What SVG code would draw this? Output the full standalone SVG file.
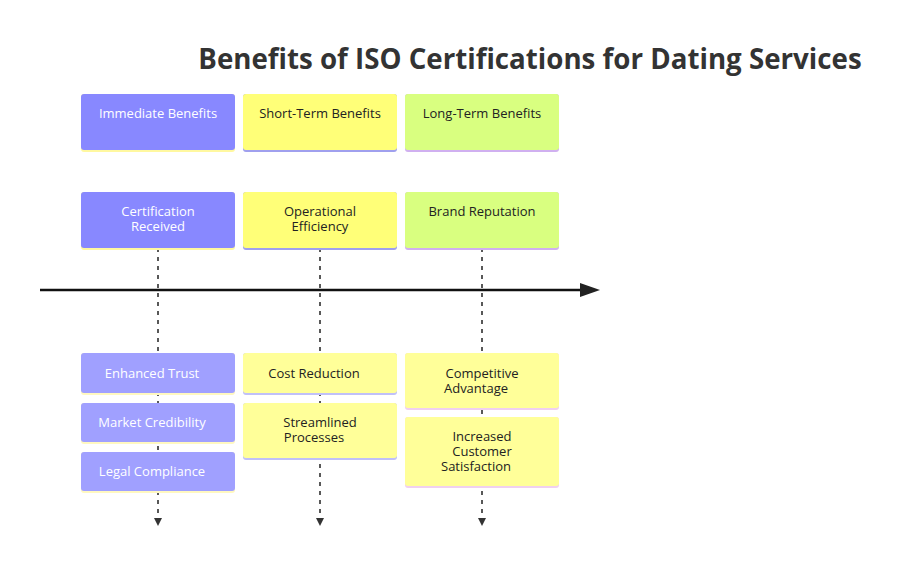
<svg xmlns="http://www.w3.org/2000/svg" width="904" height="570" viewBox="0 0 904 570">
<style>
text{font-family:"Open Sans","Liberation Sans",sans-serif;font-size:13px;text-anchor:middle}
.w{fill:#ffffff}.k{fill:#222222}
.title{font-size:27.7px;font-weight:bold;fill:#333333}
.dash{stroke:#222;stroke-width:1.5;stroke-dasharray:4 5;fill:none}
</style>
<defs>
<marker id="ah" markerWidth="8" markerHeight="8" refX="4" refY="4" orient="auto" markerUnits="userSpaceOnUse"><path d="M0,0 L8,4 L0,8 Z" fill="#333"/></marker>
<marker id="big" markerWidth="20" markerHeight="14" refX="2" refY="7" orient="auto" markerUnits="userSpaceOnUse"><path d="M0,0 L20,7 L0,14 Z" fill="#222"/></marker>
</defs>
<rect width="904" height="570" fill="#fff"/>
<text x="530" y="69" class="title">Benefits of ISO Certifications for Dating Services</text>
<g id="connectors">
<line x1="40" y1="290" x2="582" y2="290" stroke="#111" stroke-width="2.5" marker-end="url(#big)"/>
<line x1="158" y1="248" x2="158" y2="522" class="dash" marker-end="url(#ah)"/>
<line x1="320" y1="248" x2="320" y2="522" class="dash" marker-end="url(#ah)"/>
<line x1="482" y1="248" x2="482" y2="522" class="dash" marker-end="url(#ah)"/>
</g>
<g id="sec1"><rect x="81" y="94" width="154" height="58" rx="3" fill="#fff8a0"/><rect x="81" y="94" width="154" height="56" rx="3" fill="#8888ff"/><text x="158" y="118" class="w">Immediate Benefits</text></g>
<g id="sec2"><rect x="243" y="94" width="154" height="58" rx="3" fill="#a0a0ee"/><rect x="243" y="94" width="154" height="56" rx="3" fill="#ffff78"/><text x="320" y="118" class="k">Short-Term Benefits</text></g>
<g id="sec3"><rect x="405" y="94" width="154" height="58" rx="3" fill="#d0b0f0"/><rect x="405" y="94" width="154" height="56" rx="3" fill="#d9ff80"/><text x="482" y="118" class="k">Long-Term Benefits</text></g>
<g id="p1"><rect x="81" y="192" width="154" height="58" rx="3" fill="#fff8a0"/><rect x="81" y="192" width="154" height="56" rx="3" fill="#8888ff"/><text x="158" y="216" class="w">Certification</text><text x="158" y="231" class="w">Received</text></g>
<g id="p2"><rect x="243" y="192" width="154" height="58" rx="3" fill="#a0a0ee"/><rect x="243" y="192" width="154" height="56" rx="3" fill="#ffff78"/><text x="320" y="216" class="k">Operational</text><text x="320" y="231" class="k">Efficiency</text></g>
<g id="p3"><rect x="405" y="192" width="154" height="58" rx="3" fill="#d0b0f0"/><rect x="405" y="192" width="154" height="56" rx="3" fill="#d9ff80"/><text x="482" y="216" class="k">Brand Reputation</text></g>
<g id="e1"><rect x="81" y="353" width="154" height="42" rx="3" fill="#fff8c0"/><rect x="81" y="353" width="154" height="40" rx="3" fill="#a0a0ff"/><text x="152" y="378" class="w">Enhanced Trust</text></g>
<g id="e2"><rect x="81" y="403" width="154" height="41" rx="3" fill="#fff8c0"/><rect x="81" y="403" width="154" height="39" rx="3" fill="#a0a0ff"/><text x="152" y="427" class="w">Market Credibility</text></g>
<g id="e3"><rect x="81" y="452" width="154" height="41" rx="3" fill="#fff8c0"/><rect x="81" y="452" width="154" height="39" rx="3" fill="#a0a0ff"/><text x="152" y="476" class="w">Legal Compliance</text></g>
<g id="e4"><rect x="243" y="353" width="154" height="42" rx="3" fill="#c0c0f8"/><rect x="243" y="353" width="154" height="40" rx="3" fill="#ffff99"/><text x="314" y="378" class="k">Cost Reduction</text></g>
<g id="e5"><rect x="243" y="403" width="154" height="57" rx="3" fill="#c0c0f8"/><rect x="243" y="403" width="154" height="55" rx="3" fill="#ffff99"/><text x="320" y="427" class="k">Streamlined</text><text x="314" y="442" class="k">Processes</text></g>
<g id="e6"><rect x="405" y="353" width="154" height="57" rx="3" fill="#f0d0f0"/><rect x="405" y="353" width="154" height="55" rx="3" fill="#ffff99"/><text x="482" y="378" class="k">Competitive</text><text x="476" y="393" class="k">Advantage</text></g>
<g id="e7"><rect x="405" y="417" width="154" height="71" rx="3" fill="#f0d0f0"/><rect x="405" y="417" width="154" height="69" rx="3" fill="#ffff99"/><text x="482" y="441" class="k">Increased</text><text x="482" y="456" class="k">Customer</text><text x="476" y="471" class="k">Satisfaction</text></g>
</svg>
